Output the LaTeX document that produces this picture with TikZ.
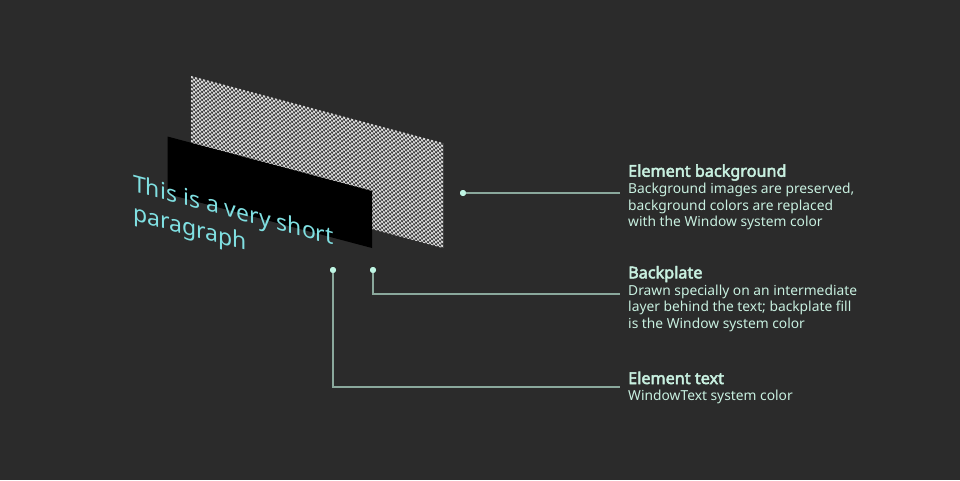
\documentclass[tikz,border=0pt]{standalone}
\usepackage{fontspec}
\setmainfont{Noto Sans}
\newfontfamily\titlefont{Noto Sans}[FakeBold=3]
\definecolor{bg}{HTML}{2B2B2B}
\definecolor{chklight}{HTML}{D6D6D6}
\definecolor{chkdark}{HTML}{3A3A3A}
\definecolor{paratext}{HTML}{80E0E2}
\definecolor{labeltext}{HTML}{C8F0E0}
\definecolor{connline}{HTML}{8AA89C}
\definecolor{dotcol}{HTML}{BFF5E3}
\tikzset{
  conn/.style={draw=connline, line width=1.2pt},
  dotnode/.style={circle, fill=dotcol, inner sep=0pt, minimum size=6pt},
  titlelbl/.style={anchor=base west, inner sep=0pt, text=labeltext, font=\titlefont\fontsize{16.2}{18}\selectfont},
  bodylbl/.style={anchor=base west, inner sep=0pt, text=labeltext, align=left, font=\fontsize{13.8}{16.7}\selectfont},
}
\begin{document}
\begin{tikzpicture}[x=1pt, y=-1pt]
\fill[bg] (0,0) rectangle (960,480);
\useasboundingbox (0,0) rectangle (960,480);
% element background (checker)
\begin{scope}
  \clip (191,76) -- (443,143) -- (443,248) -- (191,181) -- cycle;
  \fill[chkdark] (191,76) -- (443,143) -- (443,248) -- (191,181) -- cycle;
  \begin{scope}[shift={(191,76)}]
    \begin{scope}[x={(2pt,-0.532pt)}, y={(0pt,-2pt)}]
      \fill[chklight] \foreach \i in {0,2,...,126} {\foreach \j in {0,2,...,54} {(\i,\j) -- ++(1,0) -- ++(0,1) -- ++(-1,0) -- cycle}};
      \fill[chklight] \foreach \i in {1,3,...,125} {\foreach \j in {1,3,...,53} {(\i,\j) -- ++(1,0) -- ++(0,1) -- ++(-1,0) -- cycle}};
    \end{scope}
  \end{scope}
\end{scope}
% backplate
\fill[black] (167.5,136.5) -- (372,191) -- (372,248) -- (167.5,194) -- cycle;
% text (anchor = baseline of last line)
\node[anchor=base west, inner sep=0pt, yslant=-0.266, text=paratext, align=left,
      font=\fontsize{23}{29}\selectfont] (para) at (133,220.5) {This is a very short\\paragraph};
% connectors
\node[dotnode] (d1) at (463,193) {};
\node[dotnode] (d2) at (373,270) {};
\node[dotnode] (d3) at (333,270) {};
\coordinate (e1) at (620,193);
\coordinate (e2) at (620,294);
\coordinate (e3) at (620,387);
\draw[conn] (d1.center) -- (e1);
\draw[conn] (d2.center) |- (e2);
\draw[conn] (d3.center) |- (e3);
\node[dotnode] at (d1) {};
\node[dotnode] at (d2) {};
\node[dotnode] at (d3) {};
% labels (body anchors = baseline of last line)
\node[titlelbl] (t1) at (628,176.7) {Element background};
\node[bodylbl] (b1) at (628,226.7) {Background images are preserved,\\background colors are replaced\\with the Window system color};
\node[titlelbl] (t2) at (628,278.3) {Backplate};
\node[bodylbl] (b2) at (628,328.4) {Drawn specially on an intermediate\\layer behind the text; backplate fill\\is the Window system color};
\node[titlelbl] (t3) at (628,384) {Element text};
\node[bodylbl] (b3) at (628,400) {WindowText system color};
\end{tikzpicture}
\end{document}
